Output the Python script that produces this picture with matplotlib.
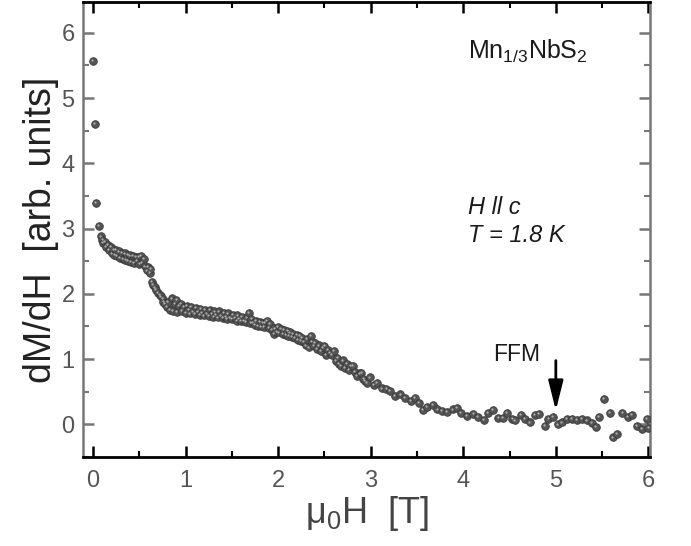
import numpy as np
import matplotlib
matplotlib.use('Agg')
import matplotlib.pyplot as plt
import matplotlib.transforms as mtransforms

plt.rcParams['font.family'] = ['Liberation Sans', 'DejaVu Sans']
plt.rcParams['mathtext.fontset'] = 'custom'
plt.rcParams['mathtext.rm'] = 'Liberation Sans'
plt.rcParams['mathtext.it'] = 'Liberation Sans:italic'

# dM/dH vs field
field = [0.00, 0.02, 0.03, 0.06, 0.08, 0.10, 0.11, 0.13, 0.14, 0.16, 0.17, 0.19, 0.20, 0.22,
         0.23, 0.25, 0.26, 0.28, 0.29, 0.31, 0.32, 0.34, 0.35, 0.37, 0.38, 0.40, 0.41, 0.43,
         0.44, 0.46, 0.47, 0.49, 0.50, 0.52, 0.53, 0.55, 0.56, 0.58, 0.59, 0.61, 0.62,
         0.64, 0.65, 0.67, 0.68, 0.70, 0.72, 0.73, 0.75, 0.76, 0.78, 0.80, 0.81, 0.83, 0.85,
         0.86, 0.88, 0.90, 0.91, 0.93, 0.95, 0.96, 0.98, 1.00, 1.01, 1.03, 1.05, 1.06, 1.08,
         1.10, 1.11, 1.13, 1.15, 1.16, 1.18, 1.20, 1.21, 1.23, 1.25, 1.26, 1.28, 1.30, 1.31,
         1.33, 1.35, 1.36, 1.38, 1.40, 1.41, 1.43, 1.45, 1.46, 1.48, 1.50, 1.51, 1.53, 1.55,
         1.56, 1.58, 1.60, 1.61, 1.63, 1.65, 1.66, 1.68, 1.70, 1.71, 1.73, 1.75, 1.76, 1.78,
         1.80, 1.81, 1.83, 1.85, 1.86, 1.88, 1.90, 1.91, 1.93, 1.95, 1.96, 1.98, 2.00, 2.01,
         2.03, 2.05, 2.06, 2.08, 2.10, 2.11, 2.13, 2.15, 2.16, 2.18, 2.20, 2.21, 2.23, 2.25,
         2.26, 2.28, 2.30, 2.31, 2.33, 2.35, 2.36, 2.38, 2.40, 2.42, 2.44, 2.46, 2.48, 2.50,
         2.52, 2.54, 2.56, 2.58, 2.60, 2.62, 2.64, 2.66, 2.68, 2.70, 2.72, 2.74, 2.76, 2.78,
         2.81, 2.83, 2.85, 2.88, 2.90, 2.92, 2.94, 2.96, 2.99, 3.03, 3.07, 3.12, 3.17, 3.21,
         3.26, 3.32, 3.37, 3.43, 3.48, 3.52, 3.56, 3.61, 3.67, 3.72, 3.77, 3.82, 3.89, 3.93,
         3.97, 4.04, 4.11, 4.16, 4.22, 4.27, 4.32, 4.38, 4.43, 4.47, 4.53, 4.56, 4.62, 4.67,
         4.72, 4.77, 4.82, 4.88, 4.92, 4.97, 5.02, 5.07, 5.12, 5.17, 5.23, 5.28, 5.34, 5.39,
         5.43, 5.47, 5.52, 5.58, 5.62, 5.66, 5.72, 5.78, 5.82, 5.88, 5.93, 5.98, 6.00]
dmdh = [5.57, 4.60, 3.39, 3.04, 2.88, 2.83, 2.78, 2.80, 2.72, 2.75, 2.67, 2.72, 2.62, 2.68,
        2.60, 2.67, 2.58, 2.65, 2.55, 2.63, 2.54, 2.62, 2.52, 2.60, 2.50, 2.59, 2.49, 2.58,
        2.47, 2.56, 2.50, 2.57, 2.46, 2.58, 2.47, 2.53, 2.42, 2.36, 2.41, 2.32, 2.38,
        2.18, 2.14, 2.10, 2.06, 2.02, 1.98, 1.96, 1.92, 1.88, 1.85, 1.80, 1.88, 1.76, 1.93,
        1.74, 1.84, 1.91, 1.72, 1.81, 1.84, 1.74, 1.80, 1.71, 1.81, 1.75, 1.70, 1.80, 1.73,
        1.69, 1.79, 1.72, 1.68, 1.77, 1.71, 1.67, 1.76, 1.70, 1.66, 1.75, 1.69, 1.65, 1.73,
        1.68, 1.64, 1.73, 1.67, 1.63, 1.71, 1.65, 1.62, 1.70, 1.64, 1.61, 1.68, 1.63, 1.59,
        1.67, 1.61, 1.58, 1.65, 1.59, 1.57, 1.63, 1.71, 1.56, 1.62, 1.55, 1.53, 1.59, 1.51,
        1.57, 1.50, 1.56, 1.49, 1.55, 1.59, 1.48, 1.54, 1.45, 1.39, 1.47, 1.42, 1.49, 1.41,
        1.46, 1.39, 1.45, 1.37, 1.43, 1.36, 1.41, 1.34, 1.39, 1.32, 1.37, 1.30, 1.35, 1.28,
        1.33, 1.26, 1.21, 1.31, 1.18, 1.35, 1.26, 1.21, 1.25, 1.16, 1.21, 1.13, 1.18, 1.20,
        1.07, 1.14, 1.10, 1.06, 1.12, 0.97, 1.02, 0.93, 0.90, 0.98, 0.87, 0.93, 0.84, 0.90,
        0.90, 0.81, 0.74, 0.78, 0.79, 0.70, 0.66, 0.64, 0.72, 0.60, 0.64, 0.55, 0.54, 0.51,
        0.44, 0.46, 0.41, 0.36, 0.40, 0.33, 0.22, 0.27, 0.30, 0.23, 0.21, 0.19, 0.23, 0.25,
        0.18, 0.13, 0.16, 0.12, 0.07, 0.17, 0.22, 0.10, 0.10, 0.17, 0.08, 0.06, 0.14, 0.08,
        0.03, 0.14, 0.16, -0.02, 0.08, 0.12, 0.00, 0.03, 0.09, 0.08, 0.07, 0.08, 0.06, 0.02,
        -0.04, 0.11, 0.39, 0.17, -0.20, -0.15, 0.17, 0.12, 0.14, -0.02, -0.07, 0.09, -0.06]

x_ticks = [0, 1, 2, 3, 4, 5, 6]
y_ticks = [0, 1, 2, 3, 4, 5, 6]
ffm_field = 5.0

fig = plt.figure(figsize=(6.91, 5.46), dpi=100)
ax = fig.add_axes([0.120, 0.163, 0.821, 0.833])

ax.scatter(field, dmdh, s=30, color='#555555', edgecolors='#3a3a3a', linewidths=0.6, zorder=3)
# little highlight on each dot so it looks like a ball
shine = mtransforms.offset_copy(ax.transData, fig=fig, x=-0.6, y=0.6, units='points')
ax.scatter(field, dmdh, s=2.5, color='#b0b0b0', linewidths=0, transform=shine, zorder=4)

ax.annotate('', xy=(ffm_field, 0.17), xytext=(ffm_field, 1.02),
            arrowprops=dict(arrowstyle='-|>,head_width=0.45,head_length=1.8', color='black', lw=2))
ax.text(4.58, 1.07, 'FFM', fontsize=16.5, ha='center', va='center', color='#1a1a1a')
ax.text(4.05, 5.72, r'Mn$_{1/3}$NbS$_2$', fontsize=18, ha='left', va='center', color='#1a1a1a')
ax.text(4.05, 3.33, 'H ll c', fontsize=17, style='italic', ha='left', va='center', color='#1a1a1a')
ax.text(4.05, 2.89, 'T = 1.8 K', fontsize=17, style='italic', ha='left', va='center', color='#1a1a1a')

ax.set_xlim(-0.11, 6.02)
ax.set_ylim(-0.45, 6.47)
ax.set_xticks(x_ticks)
ax.set_yticks(y_ticks)
ax.set_xticks(np.arange(0.5, 6, 1.0), minor=True)
ax.set_yticks(np.arange(-0.5, 6.5, 1.0), minor=True)

ax.set_xlabel('μ$_0$H  [T]', fontsize=26, color='#444444', labelpad=2)
ax.set_ylabel('dM/dH  [arb. units]', fontsize=27, color='#222222', labelpad=2)

for side in ['top', 'bottom']:
    ax.spines[side].set_color('black')
    ax.spines[side].set_linewidth(2.0)
for side in ['left', 'right']:
    ax.spines[side].set_color('#777777')
    ax.spines[side].set_linewidth(1.8)

ax.tick_params(which='both', direction='in', top=True, right=True, labelsize=17,
               labelcolor='#555555')
ax.tick_params(which='major', length=8, width=1.8)
ax.tick_params(which='minor', length=4, width=1.5)
ax.tick_params(axis='x', which='both', colors='black', labelcolor='#555555', pad=9)
ax.tick_params(axis='y', which='both', colors='#777777', labelcolor='#555555', pad=6)

fig.savefig('out.png', dpi=100)
